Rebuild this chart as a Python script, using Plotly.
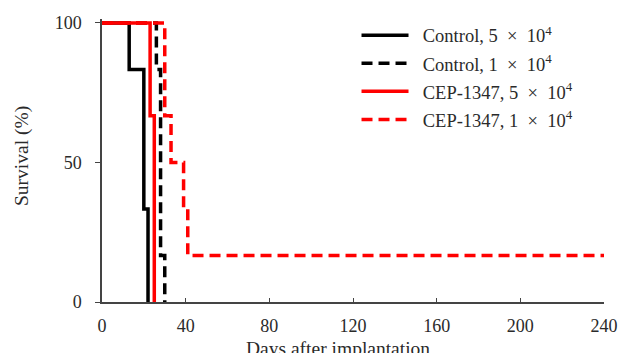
import plotly.graph_objects as go

# Survival data (Kaplan-Meier style step curves)
control5_days = [0, 13, 20, 22]
control5_surv = [100, 83.3, 33.3, 0]
control1_days = [0, 26, 28, 30]
control1_surv = [100, 83.3, 16.7, 0]
cep5_days = [0, 23, 25]
cep5_surv = [100, 66.7, 0]
cep1_days = [0, 30, 33, 39, 41, 240]
cep1_surv = [100, 66.7, 50, 33.3, 16.7, 16.7]

sp = "\u2002"
names = [f"{sp}Control, 5{sp}×{sp}10<sup>4</sup>", f"{sp}Control, 1{sp}×{sp}10<sup>4</sup>",
         f"{sp}CEP-1347, 5{sp}×{sp}10<sup>4</sup>", f"{sp}CEP-1347, 1{sp}×{sp}10<sup>4</sup>"]

x_ticks = [0, 40, 80, 120, 160, 200, 240]
y_ticks = [0, 50, 100]

series = [
    (control5_days, control5_surv, names[0], "black", "solid"),
    (control1_days, control1_surv, names[1], "black", "11px,6px"),
    (cep5_days, cep5_surv, names[2], "#ff0000", "solid"),
    (cep1_days, cep1_surv, names[3], "#ff0000", "11px,6px"),
]

fig = go.Figure()
for i, (xs, ys, nm, col, dash) in enumerate(series):
    fig.add_trace(go.Scatter(x=xs, y=ys, mode="lines", name=nm, legendgroup=f"g{i}",
                             line=dict(color=col, width=3.5, dash=dash, shape="hv")))

font = "Liberation Serif, Times New Roman, serif"
txt = "#2a2a2a"
fig.update_layout(
    width=620, height=353,
    margin=dict(l=102, r=16, t=19, b=51),
    plot_bgcolor="white", paper_bgcolor="white",
    font=dict(family=font, size=18, color=txt),
    showlegend=True,
    legend=dict(x=0.507, y=1.008, xanchor="left", yanchor="top",
                bgcolor="rgba(0,0,0,0)", itemwidth=47,
                font=dict(family=font, size=18.5, color=txt),
                traceorder="grouped", tracegroupgap=1),
    xaxis=dict(range=[0, 240], tickvals=x_ticks, showgrid=False, zeroline=False,
               showline=True, linecolor="#444", linewidth=1.5, automargin=False,
               ticks="inside", ticklen=4, tickcolor="#444", ticklabelstandoff=7,
               tickfont=dict(size=18)),
    yaxis=dict(range=[0, 101.4], tickvals=y_ticks, showgrid=False, zeroline=False,
               showline=True, linecolor="#444", linewidth=1.5, automargin=False,
               ticks="outside", ticklen=5, tickcolor="#444", ticklabelstandoff=10,
               tickfont=dict(size=18)),
    annotations=[
        dict(text="Days after implantation", xref="paper", yref="paper",
             x=(338 - 102) / 502, y=-(348 - 302) / 283, xanchor="center", yanchor="middle",
             showarrow=False, font=dict(size=19.5, family=font, color=txt)),
        dict(text="Survival (%)", xref="paper", yref="paper",
             x=-(102 - 22) / 502, y=(302 - 156) / 283, xanchor="center", yanchor="middle",
             textangle=-90, showarrow=False, font=dict(size=19.5, family=font, color=txt)),
    ],
)

fig.write_html("out.html", config={"displayModeBar": False},
               post_script="document.body.style.margin='0';document.body.style.padding='0';")
